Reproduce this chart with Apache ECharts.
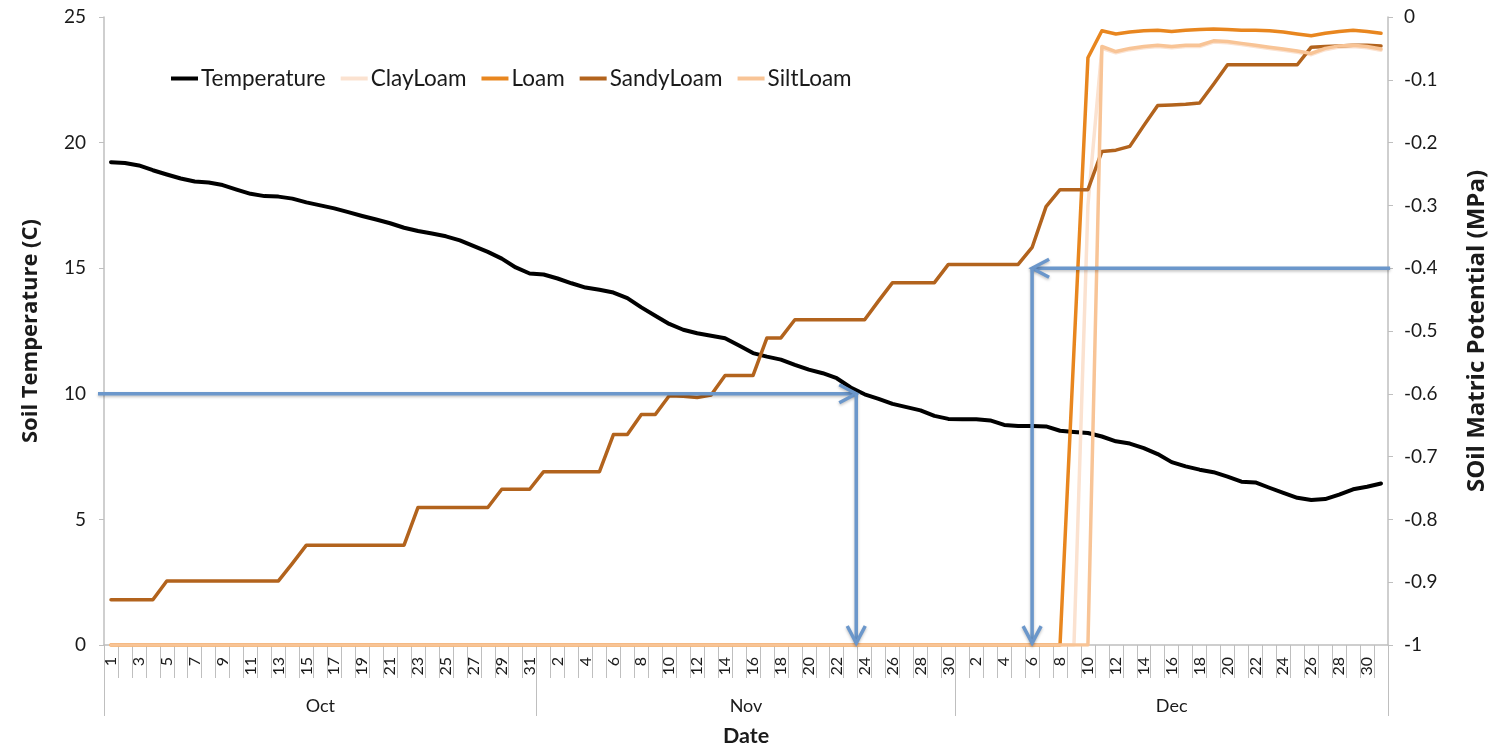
<!DOCTYPE html>
<html>
<head>
<meta charset="utf-8">
<title>Soil temperature and matric potential</title>
<script src="https://cdn.jsdelivr.net/npm/echarts@6.0.0/dist/echarts.min.js"></script>
<style>
  html, body { margin: 0; padding: 0; background: #ffffff; }
  #chart { width: 1501px; height: 752px; }
</style>
</head>
<body>
<div id="chart"></div>
<script>
// Calendar: daily readings from 1 Oct to 31 Dec
const monthNames = ['Oct', 'Nov', 'Dec'];
const monthDays = [31, 30, 31];

// Soil temperature (C), left axis
const temperature = [
  19.22, 19.19, 19.09, 18.90, 18.73, 18.57, 18.45, 18.41, 18.31, 18.13,
  17.96, 17.87, 17.85, 17.77, 17.62, 17.50, 17.38, 17.23, 17.08, 16.94,
  16.79, 16.61, 16.48, 16.38, 16.27, 16.11, 15.88, 15.65, 15.38, 15.03,
  14.79, 14.75, 14.59, 14.40, 14.23, 14.14, 14.03, 13.81, 13.44, 13.11,
  12.78, 12.55, 12.41, 12.31, 12.21, 11.92, 11.62, 11.48, 11.36, 11.15,
  10.96, 10.82, 10.62, 10.25, 9.98, 9.80, 9.60, 9.47, 9.34, 9.12,
  9.00, 8.99, 8.99, 8.94, 8.76, 8.72, 8.72, 8.70, 8.53, 8.48,
  8.44, 8.30, 8.11, 8.02, 7.84, 7.60, 7.28, 7.11, 6.98, 6.88,
  6.70, 6.50, 6.47, 6.26, 6.06, 5.86, 5.77, 5.81, 5.99, 6.20,
  6.30, 6.43
];

// Soil matric potential (MPa), right axis
const clayLoam = [
  -1, -1, -1, -1, -1, -1, -1, -1, -1, -1,
  -1, -1, -1, -1, -1, -1, -1, -1, -1, -1,
  -1, -1, -1, -1, -1, -1, -1, -1, -1, -1,
  -1, -1, -1, -1, -1, -1, -1, -1, -1, -1,
  -1, -1, -1, -1, -1, -1, -1, -1, -1, -1,
  -1, -1, -1, -1, -1, -1, -1, -1, -1, -1,
  -1, -1, -1, -1, -1, -1, -1, -1, -1, -1,
  -0.30, -0.050, -0.057, -0.052, -0.049, -0.047, -0.049, -0.047, -0.047, -0.040,
  -0.041, -0.044, -0.047, -0.050, -0.053, -0.056, -0.060, -0.052, -0.048, -0.047,
  -0.049, -0.053
];

const loam = [
  -1, -1, -1, -1, -1, -1, -1, -1, -1, -1,
  -1, -1, -1, -1, -1, -1, -1, -1, -1, -1,
  -1, -1, -1, -1, -1, -1, -1, -1, -1, -1,
  -1, -1, -1, -1, -1, -1, -1, -1, -1, -1,
  -1, -1, -1, -1, -1, -1, -1, -1, -1, -1,
  -1, -1, -1, -1, -1, -1, -1, -1, -1, -1,
  -1, -1, -1, -1, -1, -1, -1, -1, -1, -0.53,
  -0.065, -0.022, -0.027, -0.024, -0.022, -0.021, -0.023, -0.021, -0.020, -0.019,
  -0.020, -0.021, -0.021, -0.022, -0.024, -0.027, -0.030, -0.026, -0.023, -0.021,
  -0.023, -0.026
];

const sandyLoam = [
  -0.928, -0.928, -0.928, -0.928, -0.898, -0.898, -0.898, -0.898, -0.898, -0.898,
  -0.898, -0.898, -0.898, -0.870, -0.841, -0.841, -0.841, -0.841, -0.841, -0.841,
  -0.841, -0.841, -0.781, -0.781, -0.781, -0.781, -0.781, -0.781, -0.752, -0.752,
  -0.752, -0.724, -0.724, -0.724, -0.724, -0.724, -0.665, -0.665, -0.633, -0.633,
  -0.603, -0.604, -0.606, -0.602, -0.571, -0.571, -0.571, -0.511, -0.511, -0.482,
  -0.482, -0.482, -0.482, -0.482, -0.482, -0.452, -0.423, -0.423, -0.423, -0.423,
  -0.394, -0.394, -0.394, -0.394, -0.394, -0.394, -0.367, -0.302, -0.275, -0.275,
  -0.275, -0.214, -0.212, -0.206, -0.173, -0.141, -0.140, -0.139, -0.137, -0.107,
  -0.076, -0.076, -0.076, -0.076, -0.076, -0.076, -0.048, -0.047, -0.046, -0.045,
  -0.045, -0.046
];

const siltLoam = [
  -1, -1, -1, -1, -1, -1, -1, -1, -1, -1,
  -1, -1, -1, -1, -1, -1, -1, -1, -1, -1,
  -1, -1, -1, -1, -1, -1, -1, -1, -1, -1,
  -1, -1, -1, -1, -1, -1, -1, -1, -1, -1,
  -1, -1, -1, -1, -1, -1, -1, -1, -1, -1,
  -1, -1, -1, -1, -1, -1, -1, -1, -1, -1,
  -1, -1, -1, -1, -1, -1, -1, -1, -1, -1,
  -1, -0.047, -0.055, -0.050, -0.047, -0.045, -0.047, -0.045, -0.045, -0.038,
  -0.039, -0.042, -0.045, -0.048, -0.051, -0.054, -0.058, -0.050, -0.046, -0.045,
  -0.047, -0.051
];

// Reading guides: [xStart, yStart, xEnd, yEnd] in day-position units
const guideTemperature = [[-0.43, 10, 53.9, 10], [53.9, 10, 53.9, 0.08]];
const guidePotential = [[92.15, -0.4, 66.5, -0.4], [66.5, -0.4, 66.5, -0.997]];

// Category labels "Oct 1" ... "Dec 31", month boundaries and month centres
const categories = [];
const monthStarts = [0];
const monthCentres = [];
monthNames.forEach((m, k) => {
  const start = monthStarts[k];
  for (let d = 1; d <= monthDays[k]; d++) categories.push(m + ' ' + d);
  monthStarts.push(start + monthDays[k]);
  monthCentres.push(start + monthDays[k] / 2);
});

const FONT = 'Lato';
const TITLE_FONT = 'Open Sans';
const AXIS_GREY = '#bfbfbf';
const TEXT = '#1a1a1a';
const GUIDE_BLUE = '#6b97cb';

function renderGuide(params, api) {
  const p1 = api.coord([api.value(0), api.value(1)]);
  const p2 = api.coord([api.value(2), api.value(3)]);
  const ang = Math.atan2(p2[1] - p1[1], p2[0] - p1[0]);
  const c = Math.cos(ang), s = Math.sin(ang);
  const L = 17, W = 9;
  const h1 = [p2[0] - L * c - W * s, p2[1] - L * s + W * c];
  const h2 = [p2[0] - L * c + W * s, p2[1] - L * s - W * c];
  const style = {
    stroke: GUIDE_BLUE, lineWidth: 3.5, fill: null,
    shadowBlur: 3, shadowColor: 'rgba(0,0,0,0.25)', shadowOffsetY: 1.5
  };
  return {
    type: 'group',
    children: [
      { type: 'polyline', shape: { points: [p1, p2] }, style: style },
      { type: 'polyline', shape: { points: [h1, p2, h2] }, style: style }
    ]
  };
}

function lineSeries(name, data, color, axis, width) {
  return {
    name: name, type: 'line', data: data,
    xAxisIndex: 0, yAxisIndex: axis,
    symbol: 'none', showSymbol: false,
    color: color,
    lineStyle: { color: color, width: width, cap: 'round', join: 'round' },
    emphasis: { disabled: true }
  };
}

const chart = echarts.init(document.getElementById('chart'), null, { renderer: 'canvas' });

chart.setOption({
  animation: false,
  backgroundColor: '#ffffff',
  textStyle: { fontFamily: FONT },
  grid: { left: 104, right: 113, top: 17, bottom: 105, containLabel: false },
  legend: {
    data: ['Temperature', 'ClayLoam', 'Loam', 'SandyLoam', 'SiltLoam'],
    left: 166, top: 62,
    icon: 'rect', itemWidth: 27, itemHeight: 4, itemGap: 15,
    textStyle: { fontFamily: FONT, fontSize: 22.5, color: TEXT, padding: [0, 0, 0, -2] }
  },
  xAxis: [
    {
      type: 'category', data: categories, boundaryGap: true, position: 'bottom',
      axisLine: { show: true, onZero: false, lineStyle: { color: AXIS_GREY, width: 1.5 } },
      axisTick: { show: true, interval: 0, length: 33, lineStyle: { color: AXIS_GREY, width: 1 } },
      axisLabel: {
        interval: 1, rotate: 90, margin: 12, fontSize: 16, color: TEXT, fontFamily: FONT,
        formatter: v => v.split(' ')[1]
      },
      splitLine: { show: false }
    },
    {
      type: 'value', min: 0, max: 92, position: 'bottom', offset: 0,
      axisLine: { show: false, onZero: false },
      axisTick: { show: true, inside: false, customValues: monthStarts, length: 71, lineStyle: { color: AXIS_GREY, width: 1 } },
      axisLabel: {
        customValues: monthCentres, margin: 52, fontSize: 18, color: TEXT, fontFamily: FONT,
        formatter: v => monthNames[monthCentres.indexOf(v)] || ''
      },
      splitLine: { show: false },
      name: 'Date', nameLocation: 'middle', nameGap: 80,
      nameTextStyle: { fontFamily: FONT, fontSize: 21.5, fontWeight: 'bold', color: TEXT }
    }
  ],
  yAxis: [
    {
      type: 'value', min: 0, max: 25, interval: 5, position: 'left',
      axisLine: { show: true, onZero: false, lineStyle: { color: AXIS_GREY, width: 1.5 } },
      axisTick: { show: true, length: 5, lineStyle: { color: AXIS_GREY } },
      axisLabel: { margin: 18, fontSize: 19, color: TEXT, fontFamily: FONT },
      splitLine: { show: false },
      name: 'Soil Temperature (C)', nameLocation: 'middle', nameRotate: 90, nameGap: 62,
      nameTextStyle: { fontFamily: TITLE_FONT, fontSize: 22, fontWeight: 'bold', color: TEXT }
    },
    {
      type: 'value', min: -1, max: 0, interval: 0.1, position: 'right',
      axisLine: { show: true, onZero: false, lineStyle: { color: AXIS_GREY, width: 1.5 } },
      axisTick: { show: true, length: 5, lineStyle: { color: AXIS_GREY } },
      axisLabel: { margin: 16, fontSize: 19, color: TEXT, fontFamily: FONT },
      splitLine: { show: false },
      name: 'SOil Matric Potential (MPa)', nameLocation: 'middle', nameRotate: 90, nameGap: 77,
      nameTextStyle: { fontFamily: TITLE_FONT, fontSize: 24, fontWeight: 'bold', color: TEXT }
    }
  ],
  series: [
    lineSeries('Temperature', temperature, '#000000', 0, 4),
    lineSeries('ClayLoam', clayLoam, '#fbe2d0', 1, 3.5),
    lineSeries('Loam', loam, '#e8861f', 1, 3.5),
    lineSeries('SandyLoam', sandyLoam, '#b2631d', 1, 3.5),
    lineSeries('SiltLoam', siltLoam, '#f8c496', 1, 3.5),
    {
      type: 'custom', name: 'guide-temperature', xAxisIndex: 1, yAxisIndex: 0,
      data: guideTemperature, encode: { x: [0, 2], y: [1, 3] },
      renderItem: renderGuide, clip: false, z: 5, silent: true
    },
    {
      type: 'custom', name: 'guide-potential', xAxisIndex: 1, yAxisIndex: 1,
      data: guidePotential, encode: { x: [0, 2], y: [1, 3] },
      renderItem: renderGuide, clip: false, z: 5, silent: true
    }
  ]
});
</script>
</body>
</html>
